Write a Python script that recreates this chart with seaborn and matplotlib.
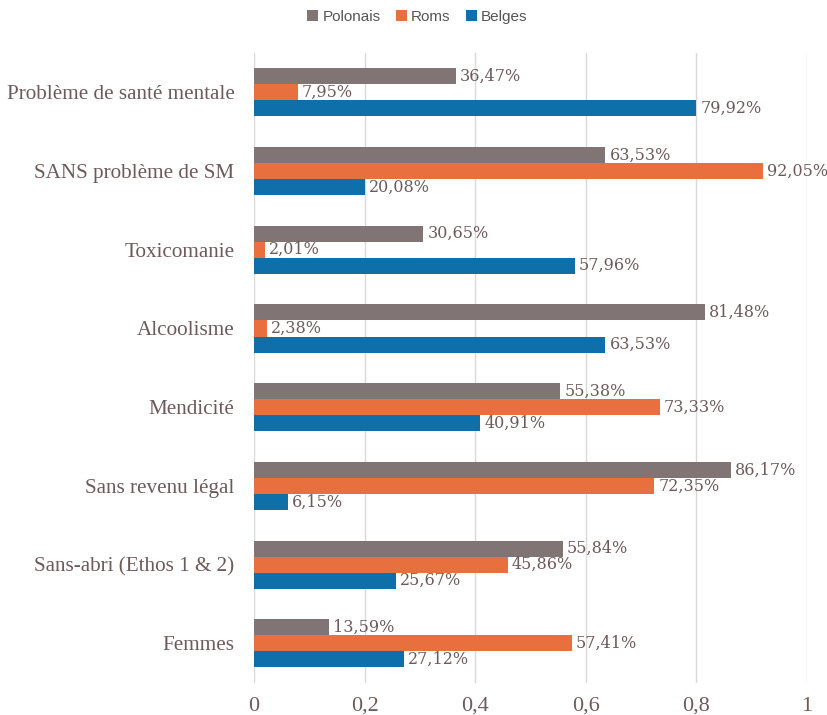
import pandas as pd
import seaborn as sns
from matplotlib import pyplot as plt
from matplotlib.ticker import FuncFormatter

categories = ['Problème de santé mentale', 'SANS problème de SM', 'Toxicomanie',
              'Alcoolisme', 'Mendicité', 'Sans revenu légal',
              'Sans-abri (Ethos 1 & 2)', 'Femmes']
polonais = [36.47, 63.53, 30.65, 81.48, 55.38, 86.17, 55.84, 13.59]
roms = [7.95, 92.05, 2.01, 2.38, 73.33, 72.35, 45.86, 57.41]
belges = [79.92, 20.08, 57.96, 63.53, 40.91, 6.15, 25.67, 27.12]
groups = ['Polonais', 'Roms', 'Belges']
colors = ['#807574', '#e7703e', '#0f6fa8']

rows = []
for name, vals in zip(groups, [polonais, roms, belges]):
    for cat, v in zip(categories, vals):
        rows.append({'cat': cat, 'group': name, 'value': v / 100})
df = pd.DataFrame(rows)

text_color = '#6e5a5a'

fig = plt.figure(figsize=(8.27, 7.15), dpi=100)
ax = fig.add_axes([0.307, 0.045, 0.669, 0.881])
sns.barplot(data=df, y='cat', x='value', hue='group', order=categories,
            hue_order=groups, palette=colors, width=0.61, orient='h',
            saturation=1, ax=ax)

for cont, vals in zip(ax.containers, [polonais, roms, belges]):
    ax.bar_label(cont, labels=[f'{v:.2f}%'.replace('.', ',') for v in vals],
                 padding=3, fontsize=11.5, color=text_color,
                 family='DejaVu Serif')

ax.set_xlim(0, 1)
ax.set_ylim(len(categories) - 0.5, -0.5)
ax.set_xticks([0, 0.2, 0.4, 0.6, 0.8, 1])
ax.xaxis.set_major_formatter(FuncFormatter(
    lambda v, p: '0' if v == 0 else ('1' if v == 1 else f'{v:.1f}'.replace('.', ','))))
ax.grid(axis='x', color='#d9d9d9', linewidth=1)
ax.set_axisbelow(True)
for s in ax.spines.values():
    s.set_visible(False)
ax.tick_params(length=0, colors=text_color)
ax.tick_params(axis='x', pad=10, labelsize=16)
ax.tick_params(axis='y', pad=14, labelsize=15.2)
for t in ax.get_xticklabels() + ax.get_yticklabels():
    t.set_family('Liberation Serif')
ax.set_xlabel('')
ax.set_ylabel('')

handles, labels = ax.get_legend_handles_labels()
ax.legend(handles, labels, loc='upper center', bbox_to_anchor=(0.5 - 0.307 / 0.669 * 0.5 + 0.025, 1.09),
          ncol=3, frameon=False, handlelength=0.7, handleheight=0.7,
          handletextpad=0.3, columnspacing=1.0,
          prop={'family': 'Liberation Sans', 'size': 11}, labelcolor='#555555')

fig.savefig('out.png', dpi=100)
